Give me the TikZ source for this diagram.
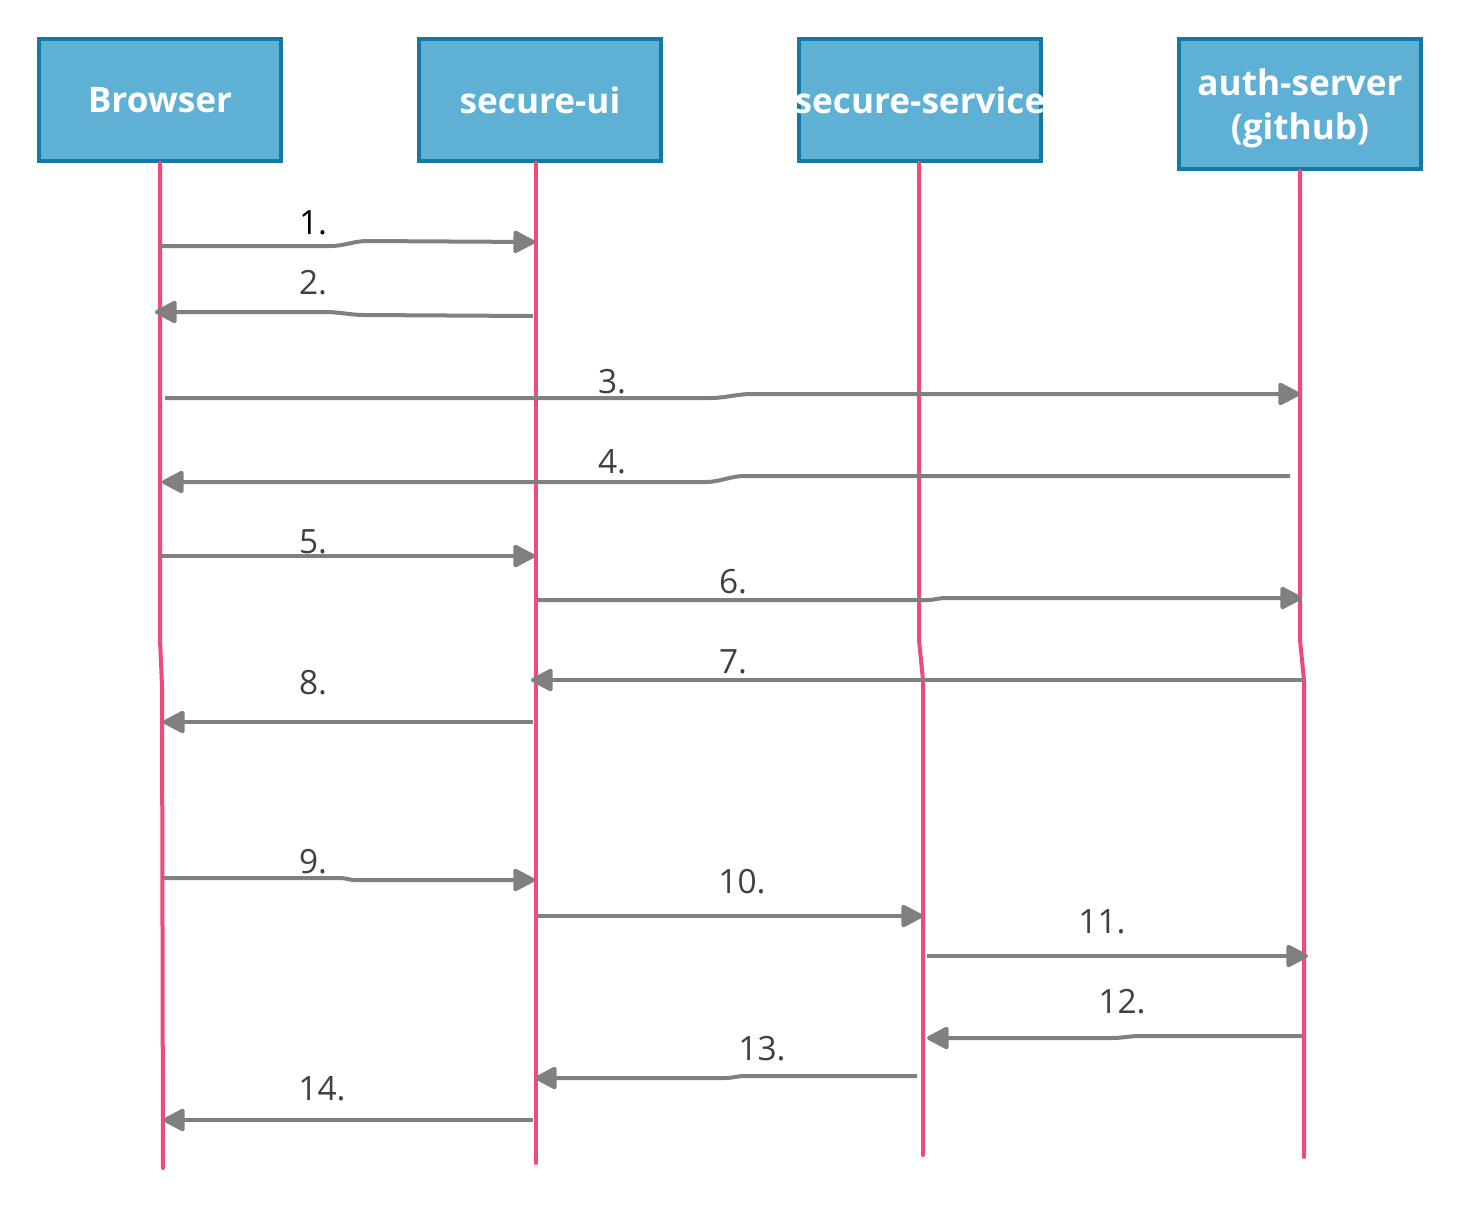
\documentclass[tikz,border=0pt]{standalone}
\usepackage{fontspec}
\setmainfont{Open Sans}
\usepackage{xcolor}
\usetikzlibrary{arrows.meta}
\definecolor{boxfill}{HTML}{5FB0D5}
\definecolor{boxline}{HTML}{1479A5}
\definecolor{lifeline}{HTML}{F24A78}
\definecolor{msggray}{HTML}{808080}
\definecolor{labgray}{HTML}{404040}

\tikzset{
  actor/.style={draw=boxline, fill=boxfill, line width=0.035cm, minimum width=2.42cm,
    minimum height=1.22cm, text=white, font=\fontsize{10}{12.5}\selectfont\bfseries, align=center, inner sep=0pt},
  life/.style={draw=lifeline, line width=0.04cm, line cap=round},
  msg/.style={draw=msggray, line width=0.04cm, -{Triangle[length=0.24cm, width=0.24cm, round]}},
  num/.style={text=labgray, font=\fontsize{9.5}{11}\selectfont, inner sep=1pt}
}

\begin{document}
\begin{tikzpicture}[x=0.01cm, y=-0.01cm]
        \useasboundingbox (0,0) rectangle (1460,1208);
        % actors
        \node[actor] (browser) at (160,100) {Browser};
        \node[actor] (ui) at (540,100) {secure-ui};
        \node[actor] (service) at (920,100) {\makebox[2.3cm]{secure-service}};
        \node[actor, minimum height=1.30cm] (auth) at (1300,104) {\\[-0.08cm]auth-server\\(github)};
        % lifelines
        \coordinate (bA) at (160,640); \coordinate (bB) at (162,685); \coordinate (bE) at (163,1168);
        \coordinate (uE) at (536,1163);
        \coordinate (sA) at (919,640); \coordinate (sB) at (923,680); \coordinate (sE) at (923,1155);
        \coordinate (aA) at (1300,640); \coordinate (aB) at (1304,680); \coordinate (aE) at (1304,1157);
        \draw[life] (browser.south) -- (bA) -- (bB) -- (bE);
        \draw[life] (ui.south -| 536,0) -- (uE);
        \draw[life] (service.south -| 919,0) -- (sA) -- (sB) -- (sE);
        \draw[life] (auth.south) -- (aA) -- (aB) -- (aE);
        % messages
        \draw[msg] (browser |- 0,246) -- (330,246) to[out=0, in=180] (368,241) -- (535,242);
        \draw[msg] (533,316) -- (365,315) to[out=180, in=0] (325,312) -- (155,312);
        \draw[msg] (165,398) -- (710,398) to[out=0, in=180] (752,394) -- (auth |- 0,394);
        \draw[msg] (1290,476) -- (745,476) to[out=180, in=0] (705,482) -- (162,482);
        \draw[msg] (browser |- 0,556) -- (535,556);
        \draw[msg] (538,600) -- (928,600) to[out=0, in=180] (945,598) -- (1302,598);
        \draw[msg] (aB) -- (531,680);
        \draw[msg] (533,722) -- (163,722);
        \draw[msg] (163,878) -- (340,878) to[out=0, in=180] (355,880) -- (535,880);
        \draw[msg] (538,916) -- (923,916);
        \draw[msg] (927,956) -- (1308,956);
        \draw[msg] (1302,1036) -- (1140,1036) to[out=180, in=0] (1112,1038) -- (927,1038);
        \draw[msg] (917,1076) -- (745,1076) to[out=180, in=0] (725,1078) -- (535,1078);
        \draw[msg] (533,1120) -- (163,1120);
        % labels
        \node[num, text=black] (l1) at (313,223) {1.};
        \node[num] (l2) at (313,283) {2.};
        \node[num] (l3) at (612,382) {3.};
        \node[num] (l4) at (612,462) {4.};
        \node[num] (l5) at (313,542) {5.};
        \node[num] (l6) at (733,582) {6.};
        \node[num] (l7) at (733,662) {7.};
        \node[num] (l8) at (313,683) {8.};
        \node[num] (l9) at (313,862) {9.};
        \node[num] (l10) at (742,882) {10.};
        \node[num] (l11) at (1102,922) {11.};
        \node[num] (l12) at (1122,1002) {12.};
        \node[num] (l13) at (762,1049) {13.};
        \node[num] (l14) at (322,1089) {14.};
    \end{tikzpicture}
\end{document}
